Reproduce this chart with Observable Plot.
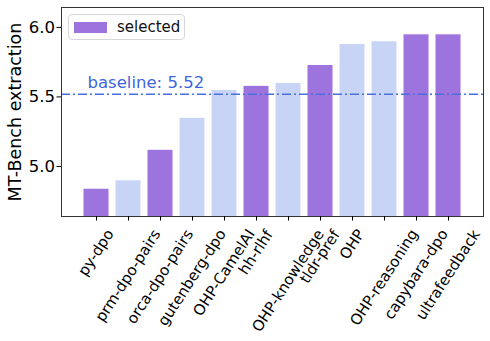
<!DOCTYPE html>
<html>
<head>
<meta charset="utf-8">
<script src="https://cdn.jsdelivr.net/npm/d3@7"></script>
<script src="https://cdn.jsdelivr.net/npm/@observablehq/plot@0.6"></script>
<style>
  html, body { margin: 0; padding: 0; background: white; }
  #wrap { position: relative; width: 490px; height: 341px; font-family: "DejaVu Sans", sans-serif; }
  #legend { position: absolute; left: 68px; top: 14px; width: 117px; height: 26px; box-sizing: border-box;
            border: 1px solid #d6d6d6; border-radius: 4px; background: rgba(255,255,255,0.8); }
  #legend .sw { position: absolute; left: 5px; top: 7px; width: 33px; height: 11px; }
  #legend .lb { position: absolute; left: 48px; top: 2px; font-size: 15px; color: #111; line-height: 20px; }
</style>
</head>
<body>
<div id="wrap">
  <div id="legend"><div class="sw"></div><div class="lb"></div></div>
</div>
<script>
const categories = ["py-dpo","prm-dpo-pairs","orca-dpo-pairs","gutenberg-dpo","OHP-CamelAI","hh-rlhf","OHP-knowledge","tldr-pref","OHP","OHP-reasoning","capybara-dpo","ultrafeedback"];
const values = [4.84, 4.90, 5.12, 5.35, 5.55, 5.58, 5.60, 5.73, 5.88, 5.90, 5.95, 5.95];
const selected = [true, false, true, false, false, true, false, true, false, false, true, true];
const baseline = 5.52;
const yTicks = [5.0, 5.5, 6.0];
const legendLabel = "selected";
const yLabel = "MT-Bench extraction";

const purple = "#9d74de";
const lightBlue = "#c8d4f5";
const blue = "#4a6fdc";

const data = categories.map((c, i) => ({name: c, value: values[i], sel: selected[i]}));

const plot = Plot.plot({
  width: 490,
  height: 341,
  marginLeft: 61,
  marginRight: 7,
  marginTop: 7,
  marginBottom: 125,
  style: {fontFamily: "DejaVu Sans", fontSize: "15px", color: "black", background: "white"},
  x: {domain: categories, paddingInner: 0.2, paddingOuter: 0.59},
  y: {domain: [4.64, 6.143]},
  marks: [
    Plot.barY(data, {x: "name", y: "value", fill: d => d.sel ? purple : lightBlue, stroke: "white", strokeWidth: 1, clip: true}),
    Plot.ruleY([baseline], {stroke: blue, strokeWidth: 1.5, strokeDasharray: "9,3,2,3"}),
    Plot.text([baseline], {y: d => d, frameAnchor: "left", dx: 26, dy: -6, lineAnchor: "bottom", textAnchor: "start",
      text: d => `baseline: ${d}`, fill: "#3f66dc", fontSize: 16.5}),
    Plot.frame({stroke: "#333", strokeWidth: 1}),
    Plot.axisY({ticks: yTicks, tickFormat: ".1f", tickSize: 4.5, tickPadding: 2, fontSize: 16.5, label: null}),
    Plot.text([yLabel], {frameAnchor: "left", dx: -46, rotate: -90, fontSize: 17.5, lineAnchor: "middle", textAnchor: "middle", fill: "black"}),
    Plot.axisX({tickSize: 4.5, tickRotate: -57, fontSize: 15, label: null})
  ]
});

document.getElementById("wrap").prepend(plot);
document.querySelector("#legend .sw").style.background = purple;
document.querySelector("#legend .lb").textContent = legendLabel;

// center the rotated x labels horizontally on their ticks (matplotlib ha="center")
const xs = plot.scale("x");
const svgRect = plot.getBoundingClientRect();
const labels = plot.querySelectorAll('g[aria-label="x-axis tick label"] text');
labels.forEach((t, i) => {
  const r = t.getBoundingClientRect();
  const tickX = xs.apply(categories[i]) + xs.bandwidth / 2;
  const cx = (r.left + r.right) / 2 - svgRect.left;
  const top = r.top - svgRect.top;
  const dx = tickX - cx, dy = 226 - top;
  t.setAttribute("transform", `translate(${dx},${dy}) ` + (t.getAttribute("transform") || ""));
});
</script>
</body>
</html>
